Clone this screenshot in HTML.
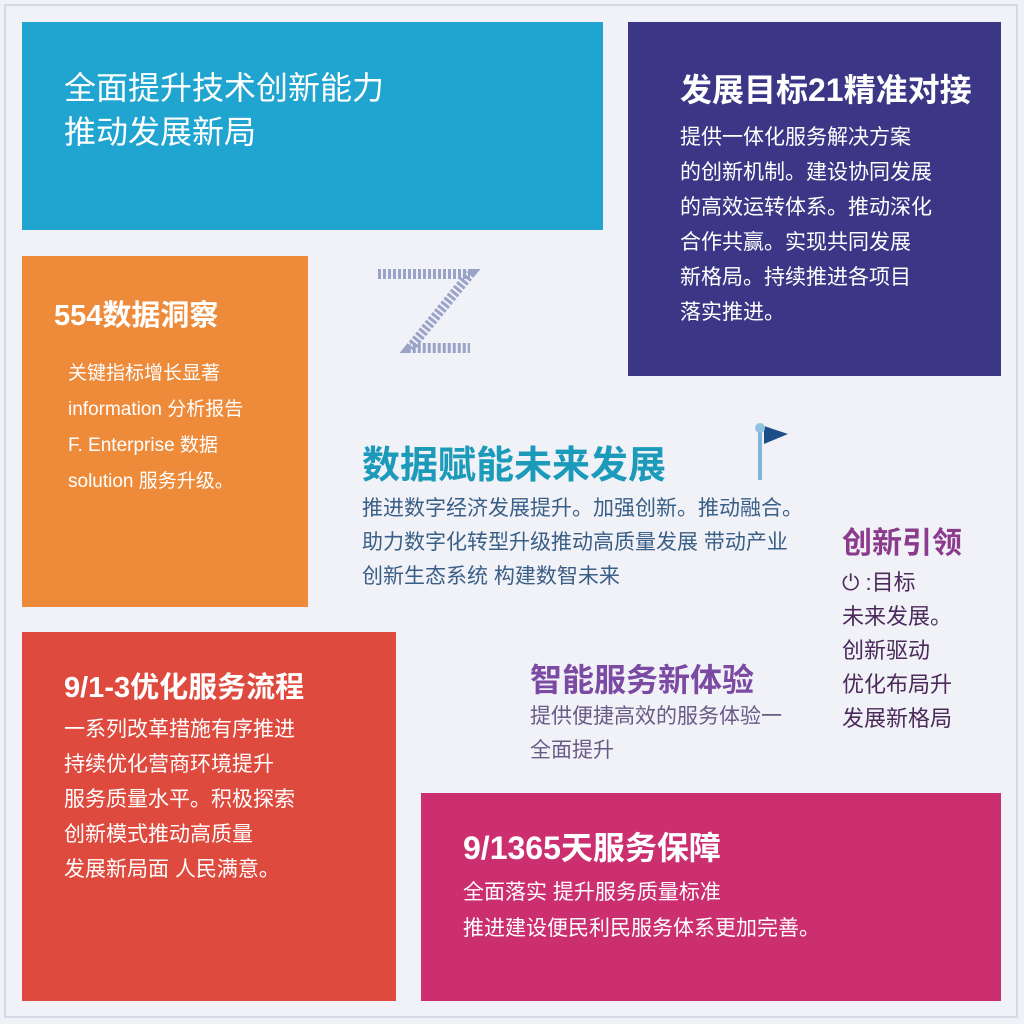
<!DOCTYPE html>
<html><head><meta charset="utf-8"><style>
body{margin:0;width:1024px;height:1024px;background:#f1f1f8;position:relative;overflow:hidden;font-family:"Liberation Sans","Noto Sans CJK SC",sans-serif}
.frame{position:absolute;left:4px;top:4px;width:1014px;height:1014px;border:2px solid #d8d8e6;box-sizing:border-box}
.box{position:absolute;color:#fff;box-sizing:border-box}
.t{font-weight:bold;white-space:nowrap}
.p{white-space:nowrap}
</style></head><body>
<div class="frame"></div>

<div class="box" style="left:22px;top:22px;width:581px;height:208px;background:#20a4d0;padding:44px 0 0 42px">
<div class="t" style="font-size:32px;line-height:44px;font-weight:normal">全面提升技术创新能力<br>推动发展新局</div>
</div>

<div class="box" style="left:628px;top:22px;width:373px;height:354px;background:#3b3786;padding:48px 0 0 52px">
<div class="t" style="font-size:32px;line-height:40px">发展目标21精准对接</div>
<div class="p" style="font-size:21px;line-height:35px;margin-top:10px">提供一体化服务解决方案<br>的创新机制。建设协同发展<br>的高效运转体系。推动深化<br>合作共赢。实现共同发展<br>新格局。持续推进各项目<br>落实推进。</div>
</div>

<div class="box" style="left:22px;top:256px;width:286px;height:351px;background:#ee8b3b;padding:40px 0 0 32px">
<div class="t" style="font-size:29px;line-height:40px">554数据洞察</div>
<div class="p" style="font-size:19px;line-height:36px;margin-top:20px;padding-left:14px">关键指标增长显著<br>information 分析报告<br>F. Enterprise 数据<br>solution 服务升级。</div>
</div>

<div class="box" style="left:22px;top:632px;width:374px;height:369px;background:#df4a3f;padding:36px 0 0 42px">
<div class="t" style="font-size:29px;line-height:40px">9/1-3优化服务流程</div>
<div class="p" style="font-size:21px;line-height:35px;margin-top:4px">一系列改革措施有序推进<br>持续优化营商环境提升<br>服务质量水平。积极探索<br>创新模式推动高质量<br>发展新局面 人民满意。</div>
</div>

<div class="box" style="left:421px;top:793px;width:580px;height:208px;background:#cc2f6f;padding:34px 0 0 42px">
<div class="t" style="font-size:32px;line-height:42px">9/1365天服务保障</div>
<div class="p" style="font-size:21px;line-height:36px;margin-top:6px">全面落实 提升服务质量标准<br>推进建设便民利民服务体系更加完善。</div>
</div>

<svg style="position:absolute;left:370px;top:268px" width="112" height="92">
<path d="M8 6 H100 L40 80 H100" fill="none" stroke="#9aa3c8" stroke-width="10" stroke-dasharray="3 2"/>
</svg>

<div class="t" style="position:absolute;left:362px;top:434px;font-size:38px;color:#1c9ab9">数据赋能未来发展</div>
<svg style="position:absolute;left:748px;top:418px" width="44" height="64">
<line x1="12" y1="10" x2="12" y2="62" stroke="#7fb6d6" stroke-width="4"/><polygon points="16,8 40,16 16,26" fill="#1c4f8a"/><circle cx="12" cy="10" r="5" fill="#8fc3e0"/>
</svg>
<div class="p" style="position:absolute;left:362px;top:492px;font-size:21px;line-height:34px;color:#3a5f86">推进数字经济发展提升。加强创新。推动融合。<br>助力数字化转型升级推动高质量发展 带动产业<br>创新生态系统 构建数智未来</div>

<div class="t" style="position:absolute;left:842px;top:518px;font-size:30px;color:#8b3a8c">创新引领</div>
<div class="p" style="position:absolute;left:842px;top:566px;font-size:22px;line-height:34px;color:#4b2a5a">⏻ :目标<br>未来发展。<br>创新驱动<br>优化布局升<br>发展新格局</div>

<div class="t" style="position:absolute;left:530px;top:655px;font-size:32px;color:#7b4aa2">智能服务新体验</div>
<div class="p" style="position:absolute;left:530px;top:700px;font-size:21px;line-height:34px;color:#6a5a86">提供便捷高效的服务体验一<br>全面提升</div>
</body></html>
